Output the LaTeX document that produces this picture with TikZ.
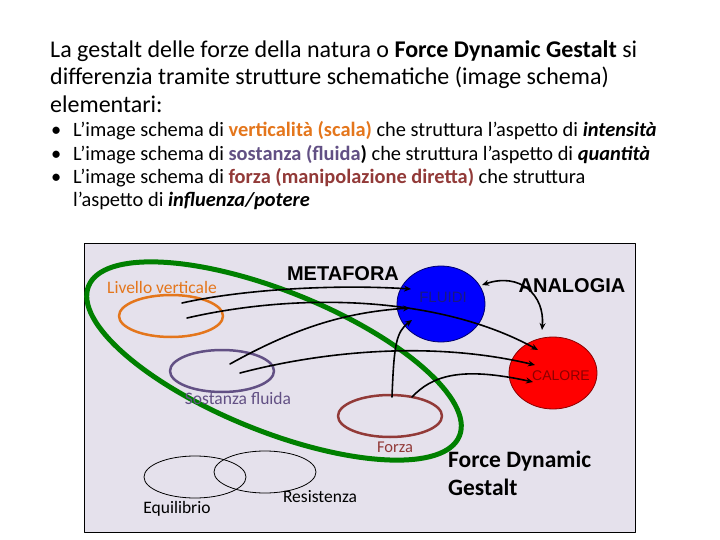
\documentclass[tikz,border=0pt]{standalone}
\usepackage{fontspec}
\setmainfont{Carlito}
\newfontfamily\arialfont{Liberation Sans}
\usetikzlibrary{arrows.meta}
\usetikzlibrary{shapes.geometric}
\definecolor{panelbg}{RGB}{229,225,236}
\definecolor{scalac}{RGB}{228,118,28}
\definecolor{fluidac}{RGB}{98,80,132}
\definecolor{forzac}{RGB}{146,58,56}
\definecolor{gestaltc}{RGB}{0,128,0}
\definecolor{fluidibg}{RGB}{0,0,255}
\definecolor{caloreb}{RGB}{255,0,0}
\tikzset{
  hdr/.style={anchor=base west,inner sep=0pt,font=\fontsize{24}{28}\selectfont},
  blt/.style={anchor=base west,inner sep=0pt,font=\fontsize{20.4}{24}\selectfont},
  schema/.style={ellipse,draw,line width=2.5pt,minimum width=104pt,minimum height=42pt,inner sep=0pt},
  thinschema/.style={ellipse,draw,line width=0.8pt,minimum width=102pt,minimum height=42pt,inner sep=0pt},
  lbl/.style={anchor=base,inner sep=0pt,font=\fontsize{17.5}{20}\selectfont},
  bigword/.style={anchor=base,inner sep=0pt,font=\arialfont\bfseries\fontsize{20}{24}\selectfont},
  conn/.style={line width=1.6pt}
}
\begin{document}
\begin{tikzpicture}[line cap=round,line join=round,>={Stealth[length=7pt,width=6pt]},x=1pt,y=-1pt]
\useasboundingbox (0,0) rectangle (720,540);
% testo
\node[hdr] (t1) at (50,57.5) {La gestalt delle forze della natura o \textbf{Force Dynamic Gestalt} si};
\node[hdr] (t2) at (50,85) {differenzia tramite strutture schematiche (image schema)};
\node[hdr] (t3) at (50,112.5) {elementari:};
\node[blt] (b1) at (51,136.5) {\textbullet};
\node[blt] (b2) at (51,160.5) {\textbullet};
\node[blt] (b3) at (51,184) {\textbullet};
\node[blt] (p1) at (73,136.5) {L’image schema di \textbf{\textcolor{scalac}{verticalità (scala)}} che struttura l’aspetto di \textbf{\textit{intensità}}};
\node[blt] (p2) at (73,160.5) {L’image schema di \textbf{\textcolor{fluidac}{sostanza (fluida})} che struttura l’aspetto di \textbf{\textit{quantità}}};
\node[blt] (p3) at (73,184) {L’image schema di \textbf{\textcolor{forzac}{forza (manipolazione diretta)}} che struttura};
\node[blt] (p4) at (73,207) {l’aspetto di \textbf{\textit{influenza/potere}}};
% riquadro
\draw[fill=panelbg,line width=0.8pt] (84,243) rectangle (635,532);
% schemi
\draw[gestaltc,line width=5pt,rotate around={-22:(274,361)}] (274,361) ellipse [x radius=200,y radius=70];
\node[schema,draw=scalac] (verticale) at (171,316) {};
\node[schema,draw=fluidac] (sostanza) at (222,371) {};
\node[schema,draw=forzac] (forza) at (390,416) {};
\node[thinschema] (equilibrio) at (195,477) {};
\node[thinschema] (resistenza) at (265,472) {};
\node[ellipse,fill=fluidibg,draw={rgb,255:red,0;green,0;blue,110},line width=0.8pt,minimum width=88pt,minimum height=76pt] (fluidi) at (441,304) {};
\node[ellipse,fill=caloreb,draw={rgb,255:red,140;green,0;blue,0},line width=0.8pt,minimum width=88pt,minimum height=72pt] (calore) at (553,373) {};
% etichette
\node[lbl,text=scalac] (livlbl) at (162,293) {Livello verticale};
\node[lbl,text=fluidac] (soslbl) at (238,404) {Sostanza fluida};
\node[lbl,text=forzac,font=\fontsize{16.5}{20}\selectfont] (forlbl) at (395,452) {Forza};
\node[lbl] (equlbl) at (177,513) {Equilibrio};
\node[lbl] (reslbl) at (320,502) {Resistenza};
\node[bigword] (metafora) at (343,280) {METAFORA};
\node[bigword] (analogia) at (572,292) {ANALOGIA};
\node[anchor=base,inner sep=0pt,font=\arialfont\fontsize{15}{18}\selectfont,text={rgb,255:red,25;green,25;blue,130}] (fluiditxt) at (443,302) {FLUIDI};
\node[anchor=base,inner sep=0pt,font=\arialfont\fontsize{14}{18}\selectfont,text={rgb,255:red,140;green,0;blue,0}] (caloretxt) at (561,380) {CALORE};
\node[anchor=base west,inner sep=0pt,font=\bfseries\fontsize{23.5}{28}\selectfont] (fdg1) at (448,467) {Force Dynamic};
\node[anchor=base west,inner sep=0pt,font=\bfseries\fontsize{23.5}{28}\selectfont] (fdg2) at (448,495) {Gestalt};
% collegamenti
\coordinate (v1) at (182,303);
\coordinate (v2) at (187,318);
\coordinate (s1) at (230,364);
\coordinate (s2) at (240,373);
\coordinate (fz1) at (392,397);
\coordinate (fz2) at (412,397);
\coordinate (fl1) at (411,289);
\coordinate (fl2) at (410,308);
\coordinate (fl3) at (412,320);
\coordinate (ca1) at (538,350);
\coordinate (ca2) at (535,365);
\coordinate (ca3) at (533,382);
\coordinate (an1) at (482,285);
\coordinate (an2) at (542,330);
\draw[conn,->] (v1) .. controls (240,290) and (330,284) .. (fl1);
\draw[conn,->] (v2) .. controls (300,292) and (440,296) .. (ca1);
\draw[conn,->] (s1) .. controls (300,325) and (350,312) .. (fl2);
\draw[conn,->] (s2) .. controls (320,352) and (430,340) .. (ca2);
\draw[conn,->] (fz1) .. controls (394,345) and (396,332) .. (fl3);
\draw[conn,->] (fz2) .. controls (432,376) and (460,366) .. (ca3);
\draw[conn,<->] (an1) .. controls (520,272) and (545,295) .. (an2);
\end{tikzpicture}
\end{document}
